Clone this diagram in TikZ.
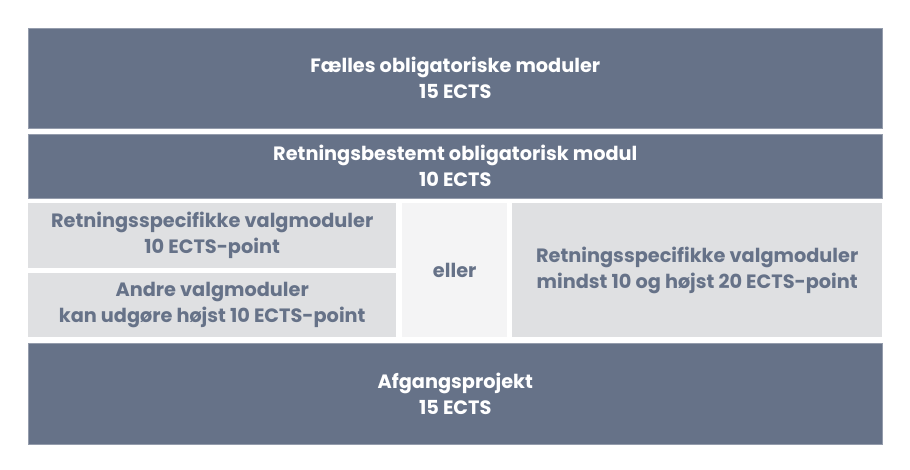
\documentclass[tikz,border=0pt]{standalone}
\usepackage{fontspec}
\setmainfont{Poppins}
\usepackage{xcolor}
\usetikzlibrary{positioning}
\definecolor{modslate}{RGB}{102,114,136}
\definecolor{modgrey}{RGB}{223,224,226}
\definecolor{modlight}{RGB}{244,244,245}
\tikzset{
  modbox/.style={
    rectangle,
    anchor=north west,
    inner sep=0pt,
    align=center,
    font=\fontsize{19.3}{26}\selectfont\bfseries
  },
  darkmod/.style={
    modbox,
    fill=modslate,
    draw=modslate!70!white,
    line width=0.6pt,
    text=white
  },
  greymod/.style={
    modbox,
    fill=modgrey,
    text=modslate
  },
  lightmod/.style={
    modbox,
    fill=modlight,
    text=modslate
  }
}

\begin{document}
\begin{tikzpicture}[x=1pt,y=-1pt]
\useasboundingbox (0,0) rectangle (910,470);
\node[darkmod, minimum width=854pt, minimum height=100pt] (common) at (28,28) {Fælles obligatoriske moduler\\15 ECTS};
\node[darkmod, minimum width=854pt, minimum height=64pt] (direction) at (28,134) {Retningsbestemt obligatorisk modul\\10 ECTS};
\node[greymod, minimum width=368pt, minimum height=65pt] (specA) at (28,203) {Retningsspecifikke valgmoduler\\10 ECTS-point};
\node[greymod, minimum width=368pt, minimum height=64pt] (other) at (28,273) {Andre valgmoduler\\kan udgøre højst 10 ECTS-point};
\node[lightmod, minimum width=105pt, minimum height=134pt] (eller) at (402,203) {eller};
\node[greymod, minimum width=370pt, minimum height=134pt] (specB) at (512,203) {Retningsspecifikke valgmoduler\\mindst 10 og højst 20 ECTS-point};
\node[darkmod, minimum width=854pt, minimum height=101pt] (project) at (28,343) {Afgangsprojekt\\15 ECTS};
\end{tikzpicture}
\end{document}
